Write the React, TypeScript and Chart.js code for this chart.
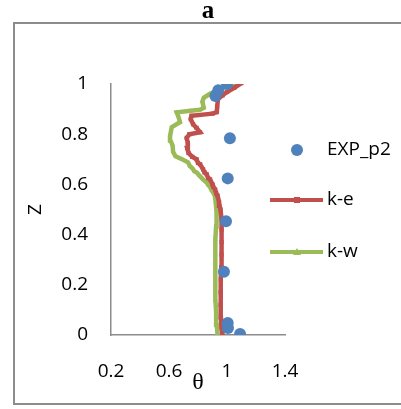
import React, { useEffect, useRef } from "react";
import { Chart, registerables } from "chart.js";

Chart.register(...registerables);

const xTicks = [0.2, 0.6, 1.0, 1.4];
const yTicks = [0, 0.2, 0.4, 0.6, 0.8, 1];

const expX = [1.0, 0.94, 0.92, 1.02, 1.005, 0.993, 0.979, 1.005, 1.007, 1.09];
const expZ = [1.0, 0.975, 0.952, 0.784, 0.624, 0.453, 0.252, 0.048, 0.028, 0.004];

const keX = [0.968, 0.962, 0.958, 0.956, 0.956, 0.958, 0.96, 0.962, 0.963, 0.963, 0.962, 0.955, 0.948, 0.945, 0.935, 0.925, 0.918, 0.905, 0.9, 0.883, 0.87, 0.86, 0.845, 0.835, 0.815, 0.8, 0.79, 0.76, 0.735, 0.725, 0.73, 0.722, 0.74, 0.814, 0.79, 0.766, 0.75, 0.755, 0.9, 0.93, 0.932, 0.938, 0.97, 1.0, 1.05, 1.1];
const keZ = [0, 0.03, 0.07, 0.12, 0.17, 0.22, 0.27, 0.32, 0.37, 0.42, 0.46, 0.5, 0.515, 0.53, 0.555, 0.565, 0.58, 0.59, 0.6, 0.62, 0.625, 0.64, 0.648, 0.66, 0.68, 0.685, 0.7, 0.71, 0.725, 0.745, 0.765, 0.785, 0.8, 0.808, 0.825, 0.84, 0.86, 0.873, 0.882, 0.888, 0.91, 0.94, 0.955, 0.968, 0.985, 1.004];

const kwX = [0.935, 0.93, 0.925, 0.92, 0.918, 0.918, 0.92, 0.922, 0.925, 0.928, 0.922, 0.917, 0.905, 0.895, 0.883, 0.87, 0.86, 0.845, 0.834, 0.81, 0.79, 0.775, 0.76, 0.745, 0.731, 0.69, 0.645, 0.628, 0.625, 0.61, 0.607, 0.619, 0.676, 0.665, 0.653, 0.75, 0.814, 0.84, 0.83, 0.84, 0.88, 0.93, 1.0, 1.067];
const kwZ = [0, 0.04, 0.09, 0.14, 0.2, 0.26, 0.32, 0.38, 0.433, 0.49, 0.528, 0.553, 0.568, 0.575, 0.59, 0.598, 0.608, 0.615, 0.62, 0.635, 0.648, 0.652, 0.665, 0.672, 0.688, 0.7, 0.712, 0.73, 0.755, 0.775, 0.792, 0.828, 0.848, 0.87, 0.887, 0.893, 0.897, 0.905, 0.93, 0.945, 0.96, 0.975, 0.99, 1.005];

const BLUE = "#4F81BD";
const RED = "#C0504D";
const GREEN = "#9BBB59";
const AXIS = "#8c8c8c";
const SANS = "'Open Sans', 'Liberation Sans', sans-serif";
const SERIF = "'Liberation Serif', 'DejaVu Serif', serif";

const toPts = (xs: number[], ys: number[]) => xs.map((x, i) => ({ x, y: ys[i] }));

const decorPlugin = {
  id: "decor",
  beforeDraw(chart: any) {
    const ctx = chart.ctx;
    ctx.save();
    ctx.fillStyle = "#ffffff";
    ctx.fillRect(0, 0, chart.width, chart.height);
    ctx.strokeStyle = AXIS;
    ctx.lineWidth = 2;
    ctx.beginPath();
    ctx.moveTo(405, 23);
    ctx.lineTo(14, 23);
    ctx.lineTo(14, 404);
    ctx.lineTo(405, 404);
    ctx.stroke();
    ctx.fillStyle = "#000";
    ctx.font = `bold 25px ${SERIF}`;
    ctx.textAlign = "center";
    ctx.textBaseline = "alphabetic";
    ctx.fillText("a", 208, 18);
    ctx.restore();
  },
  afterDraw(chart: any) {
    const ctx = chart.ctx;
    ctx.save();
    ctx.font = `19px ${SANS}`;
    ctx.textBaseline = "middle";
    ctx.textAlign = "left";
    // EXP
    ctx.fillStyle = BLUE;
    ctx.beginPath();
    ctx.arc(297, 150, 6, 0, Math.PI * 2);
    ctx.fill();
    ctx.fillStyle = "#000";
    ctx.fillText("EXP_p2", 327, 150);
    // k-e
    ctx.strokeStyle = RED;
    ctx.lineWidth = 4;
    ctx.beginPath();
    ctx.moveTo(270, 200);
    ctx.lineTo(323, 200);
    ctx.stroke();
    ctx.fillStyle = RED;
    ctx.fillRect(294, 197, 6, 6);
    ctx.fillStyle = "#000";
    ctx.fillText("k-e", 327, 200);
    // k-w
    ctx.strokeStyle = GREEN;
    ctx.beginPath();
    ctx.moveTo(270, 252);
    ctx.lineTo(323, 252);
    ctx.stroke();
    ctx.fillStyle = GREEN;
    ctx.beginPath();
    ctx.moveTo(297, 248);
    ctx.lineTo(301, 255);
    ctx.lineTo(293, 255);
    ctx.closePath();
    ctx.fill();
    ctx.fillStyle = "#000";
    ctx.fillText("k-w", 327, 252);
    ctx.restore();
  },
};

export default function App() {
  const ref = useRef<HTMLCanvasElement>(null);
  useEffect(() => {
    document.body.style.margin = "0";
    const chart = new Chart(ref.current as HTMLCanvasElement, {
      type: "scatter",
      data: {
        datasets: [
          {
            label: "k-w",
            data: toPts(kwX, kwZ),
            showLine: true,
            borderColor: GREEN,
            backgroundColor: GREEN,
            borderWidth: 4.5,
            pointStyle: "triangle",
            pointRadius: 2.5,
            pointBorderWidth: 0,
            order: 3,
          },
          {
            label: "k-e",
            data: toPts(keX, keZ),
            showLine: true,
            borderColor: RED,
            backgroundColor: RED,
            borderWidth: 4.5,
            pointStyle: "rect",
            pointRadius: 3,
            pointBorderWidth: 0,
            order: 2,
          },
          {
            label: "EXP_p2",
            data: toPts(expX, expZ),
            showLine: false,
            backgroundColor: BLUE,
            borderColor: BLUE,
            pointRadius: 6,
            pointBorderWidth: 0,
            order: 1,
          },
        ],
      },
      options: {
        animation: false,
        responsive: false,
        layout: { padding: { top: 84, left: 0, right: 116, bottom: 0 } },
        plugins: { legend: { display: false }, title: { display: false }, tooltip: { enabled: false } },
        scales: {
          x: {
            type: "linear",
            min: 0.2,
            max: 1.4,
            afterBuildTicks: (s: any) => {
              s.ticks = xTicks.map((v) => ({ value: v }));
            },
            afterFit: (s: any) => {
              s.height = 74;
            },
            grid: { display: false, drawTicks: false },
            border: { color: AXIS, width: 1.5 },
            ticks: {
              padding: 25,
              color: "#000",
              font: { family: SANS, size: 19 },
              callback: (v: any) => String(v),
            },
            title: {
              display: true,
              text: "θ",
              color: "#000",
              font: { family: SERIF, size: 24 },
              padding: { top: 0, bottom: 12 },
            },
          },
          y: {
            type: "linear",
            min: 0,
            max: 1,
            afterBuildTicks: (s: any) => {
              s.ticks = yTicks.map((v) => ({ value: v }));
            },
            afterFit: (s: any) => {
              s.width = 111;
            },
            grid: { display: false, drawTicks: false },
            border: { color: AXIS, width: 1.5 },
            ticks: {
              padding: 23,
              color: "#000",
              font: { family: SANS, size: 19 },
              callback: (v: any) => String(v),
            },
            title: {
              display: true,
              text: "Z",
              color: "#000",
              font: { family: SANS, size: 19 },
              padding: { top: 24, bottom: 0 },
            },
          },
        },
      },
      plugins: [decorPlugin],
    });
    return () => chart.destroy();
  }, []);
  return (
    <div style={{ width: 401, height: 409 }}>
      <canvas ref={ref} width={401} height={409} style={{ display: "block" }} />
    </div>
  );
}
